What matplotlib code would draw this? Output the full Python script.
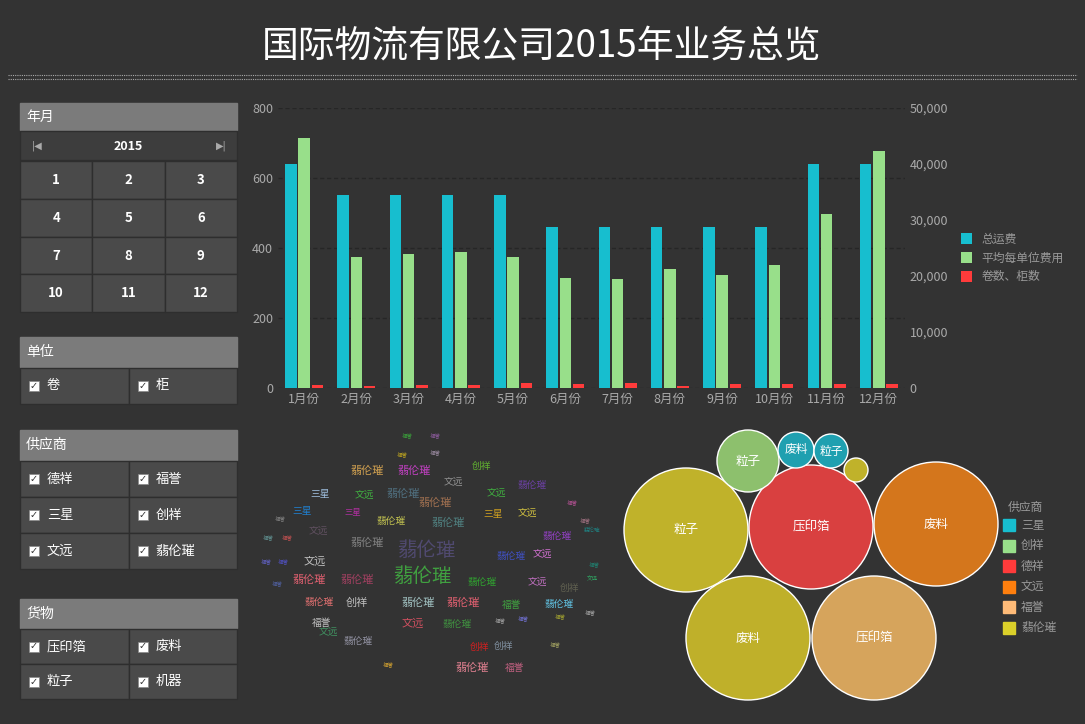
import matplotlib
matplotlib.use("Agg")
import matplotlib.pyplot as plt
from matplotlib.patches import Rectangle, Circle
from matplotlib.ticker import FuncFormatter
import numpy as np

plt.rcParams["font.family"] = ["Noto Sans CJK SC", "Noto Sans CJK JP", "Noto Sans CJK TC", "DejaVu Sans"]

months = ["1月份","2月份","3月份","4月份","5月份","6月份","7月份","8月份","9月份","10月份","11月份","12月份"]
total_ship = [640,550,550,550,550,460,460,460,460,460,640,640]
avg_cost = [44600,23400,23900,24300,23400,19600,19500,21250,20200,22000,31100,42300]
counts = [10,5,8,10,15,12,15,5,12,12,12,12]
bar_legend = ["总运费","平均每单位费用","卷数、柜数"]

suppliers = ["三星","创祥","德祥","文远","福誉","翡伦璀"]
supplier_colors = ["#17becf","#98df8a","#ff3b3b","#ff7f0e","#ffbb78","#dbd02a"]
bubble_labels = ["粒子","压印箔","废料","粒子","废料","粒子","","废料","压印箔"]
bubble_colors = ["#c0b22a","#d94040","#d4761c","#8dc06d","#1fa0b0","#1fa0b0","#c0b22a","#bfb02a","#d6a45c"]
bubble_sizes = [62,62,62,31,18,17,12,62,62]
bubble_xy = [(686,530),(811,527),(936,524),(748,461),(796,450),(831,451),(856,470),(748,638),(874,638)]

words = ["福誉","福誉","福誉","福誉","创祥","翡伦璀","翡伦璀","文远","翡伦璀","三星","文远","翡伦璀","翡伦璀","文远",
         "福誉","三星","三星","翡伦璀","翡伦璀","三星","文远","福誉","福誉","文远","翡伦璀","翡伦璀","福誉","福誉",
         "福誉","文远","翡伦璀","翡伦璀","翡伦璀","福誉","福誉","福誉","翡伦璀","翡伦璀","文远","文远","创祥","福誉",
         "创祥","翡伦璀","翡伦璀","文远","翡伦璀","翡伦璀","福誉","翡伦璀","翡伦璀","文远","文远","翡伦璀","福誉",
         "创祥","创祥","翡伦璀","福誉","福誉","福誉","福誉","福誉","翡伦璀","福誉"]
word_xy = [(407,435),(435,435),(402,454),(435,452),(482,466),(367,471),(414,471),(453,482),(532,485),(320,494),
           (364,495),(403,494),(435,503),(496,493),(572,502),(302,511),(353,512),(391,521),(448,523),(493,514),
           (527,513),(585,520),(280,518),(318,531),(557,536),(592,530),(268,537),(287,537),(277,583),
           (315,562),(367,543),(426,550),(511,556),(594,564),(266,561),(283,561),(422,577),(482,582),(542,554),
           (592,578),(570,588),(590,612),(357,603),(309,580),(357,580),(537,582),(418,603),(463,603),(512,605),
           (559,604),(319,602),(328,632),(413,624),(457,624),(322,623),(480,647),(503,646),(358,641),(560,616),
           (523,618),(500,620),(515,668),(388,664),(472,668),(555,644)]
word_sizes = [4,4,4,4,7,8,8,7,7,7,7,8,8,7,4,7,6,7,8,7,7,4,4,7,7,4,4,4,4,8,8,14,7,4,4,4,14,7,7,4,7,4,8,8,8,7,8,8,7,7,7,7,8,7,7,7,7,7,4,4,4,7,4,8,4]
word_colors = ["#3aa03a","#8a5a9a","#b8a020","#9a8aa0","#60b030","#d0a050","#c040c0","#909090","#6a40a0","#a0c0e0",
               "#40b040","#507080","#a07050","#40b040","#b05090","#2080d0","#b030a0","#c0c050","#508080","#d0a020",
               "#d0c040","#a07080","#808080","#605060","#9040c0","#208080","#609090","#c05050","#5060a0",
               "#c0c0c0","#808080","#504a70","#4050c0","#208070","#6060c0","#5050c0","#40a040","#30a030","#d070d0",
               "#30a060","#606050","#a0a0a0","#c0c0c0","#e06070","#a04060","#c070c0","#a0c0c0","#e06070","#40a040",
               "#60c0e0","#e07070","#409060","#d05060","#409040","#c0c0c0","#d02020","#8090a0","#9090a0","#a0a030",
               "#7070d0","#a0a0a0","#c06080","#d0a030","#e08090","#a0a060"]

BG = "#333333"
fig = plt.figure(figsize=(10.85, 7.24), dpi=100, facecolor=BG)
bgax = fig.add_axes([0, 0, 1, 1])
bgax.set_xlim(0, 1085); bgax.set_ylim(724, 0); bgax.axis("off")

bgax.text(542, 47, "国际物流有限公司2015年业务总览", color="white", fontsize=26.5, ha="center", va="center")
for yy in (75, 79):
    bgax.plot([8, 1077], [yy, yy], color="#aaaaaa", lw=0.8, ls=(0, (1, 1)))

def header(y0, y1, title):
    bgax.add_patch(Rectangle((20, y0), 217, y1 - y0, color="#7b7b7b"))
    bgax.text(26, (y0 + y1) / 2, title, color="white", fontsize=10, va="center")

def cell(x0, y0, w, h, fc="#4a4a4a"):
    bgax.add_patch(Rectangle((x0, y0), w, h, facecolor=fc, edgecolor="#2e2e2e", lw=1))

header(103, 130, "年月")
cell(20, 131, 217, 29, "#3d3d3d")
bgax.text(128, 146, "2015", color="white", fontsize=9, ha="center", va="center", weight="bold")
bgax.text(37, 146, "|◀", color="#aaaaaa", fontsize=7, ha="center", va="center", family="DejaVu Sans")
bgax.text(221, 146, "▶|", color="#aaaaaa", fontsize=7, ha="center", va="center", family="DejaVu Sans")
cw = 217 / 3
for i in range(12):
    r, c = divmod(i, 3)
    y0 = 161 + r * 37.75
    cell(20 + c * cw, y0, cw, 37.75)
    bgax.text(20 + c * cw + cw / 2, y0 + 19, str(i + 1), color="white", fontsize=9.5, ha="center", va="center", weight="bold")

def checks(y0, rows, items, rh=36):
    for i, it in enumerate(items):
        r, c = divmod(i, 2)
        x0 = 20 + c * 108.5
        cell(x0, y0 + r * rh, 108.5, rh)
        cy = y0 + r * rh + rh / 2
        bgax.add_patch(Rectangle((x0 + 9, cy - 5), 10, 10, facecolor="white", edgecolor="#888", lw=0.5))
        bgax.text(x0 + 14, cy, "✓", color="#333", fontsize=7, ha="center", va="center", family="DejaVu Sans", weight="bold")
        bgax.text(x0 + 27, cy, it, color="white", fontsize=9.5, va="center")

header(337, 367, "单位"); checks(368, 1, ["卷", "柜"])
header(430, 460, "供应商"); checks(461, 3, ["德祥", "福誉", "三星", "创祥", "文远", "翡伦璀"])
header(599, 628, "货物"); checks(629, 2, ["压印箔", "废料", "粒子", "机器"], rh=35)

# bar chart
ax = fig.add_axes([278/1085, (724-388)/724, 627/1085, 280/724], facecolor=BG)
ax2 = ax.twinx()
x = np.arange(len(months))
w = 0.22
b1 = ax.bar(x - w * 1.15, total_ship, w, color="#17becf")
b2 = ax2.bar(x, avg_cost, w, color="#98df8a")
b3 = ax.bar(x + w * 1.15, counts, w, color="#ff3b3b")
ax.set_ylim(0, 800); ax2.set_ylim(0, 50000)
ax.set_yticks([0, 200, 400, 600, 800]); ax2.set_yticks(range(0, 50001, 10000))
ax2.yaxis.set_major_formatter(FuncFormatter(lambda v, p: f"{int(v):,}"))
ax.set_xticks(x); ax.set_xticklabels(months)
ax.set_xlim(-0.5, 11.5)
for a in (ax, ax2):
    for s in a.spines.values(): s.set_visible(False)
    a.tick_params(colors="#aaaaaa", labelsize=9, length=0)
ax.grid(axis="y", color="#262626", lw=1, ls=(0, (3, 2)))
ax.set_axisbelow(True)
fig.legend([b1, b2, b3], bar_legend, loc="upper left", bbox_to_anchor=(950/1085, 1-222/724), frameon=False,
           labelcolor="#999999", fontsize=8.5, handlelength=1, handleheight=1, labelspacing=0.5)

# word cloud
for wd, (wx, wy), sz, col in zip(words, word_xy, word_sizes, word_colors):
    bgax.text(wx, wy, wd, fontsize=sz, color=col, ha="center", va="center")

# bubbles
for lab, col, r, (cx, cy) in zip(bubble_labels, bubble_colors, bubble_sizes, bubble_xy):
    bgax.add_patch(Circle((cx, cy), r, facecolor=col, edgecolor="white", lw=1))
    if lab:
        bgax.text(cx, cy, lab, color="white", fontsize=9 if r > 30 else 8.5, ha="center", va="center")

bgax.text(1008, 507, "供应商", color="#999999", fontsize=8.5, va="center")
for i, (s, c) in enumerate(zip(suppliers, supplier_colors)):
    yy = 525 + i * 20.5
    bgax.add_patch(Rectangle((1003, yy - 6), 12, 12, color=c))
    bgax.text(1021, yy, s, color="#999999", fontsize=8.5, va="center")

fig.savefig("out.png", dpi=100, facecolor=BG)
